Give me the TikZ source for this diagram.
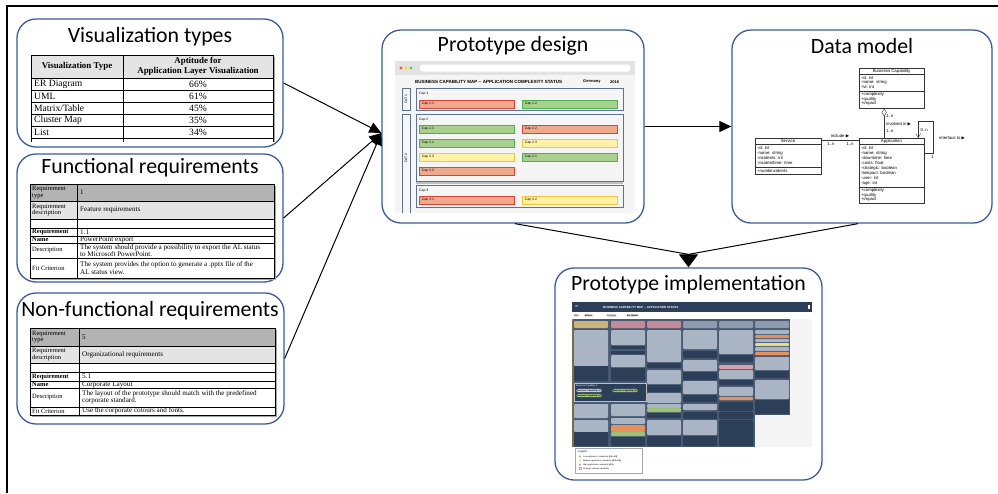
\documentclass[tikz,border=0pt]{standalone}
\usepackage{fontspec}
\setmainfont{Liberation Serif}
\newfontfamily\titlefont{Carlito}
\newfontfamily\uifont{Liberation Sans}
\newfontfamily\symfont{DejaVu Sans}
\usetikzlibrary{arrows.meta,shapes.geometric}
\definecolor{panelblue}{HTML}{3B5B98}
\definecolor{hdrgray}{HTML}{B3B3B3}
\definecolor{lgray}{HTML}{E4E4E4}
\definecolor{boxsteel}{HTML}{5C7392}
\definecolor{redfill}{HTML}{EFAA8E}
\definecolor{redline}{HTML}{D9443A}
\definecolor{grnfill}{HTML}{A9D18E}
\definecolor{grnline}{HTML}{4CB050}
\definecolor{ylwfill}{HTML}{FFF2A6}
\definecolor{ylwline}{HTML}{F2C53D}
\definecolor{navy}{HTML}{2D3E58}
\definecolor{slate}{HTML}{A9B5C5}
\definecolor{tanhdr}{HTML}{C9B47A}
\definecolor{pinkhdr}{HTML}{C48A9A}
\definecolor{grayhdr}{HTML}{8D9BB0}
\definecolor{orangeb}{HTML}{E5915E}
\definecolor{greenb}{HTML}{9CC27A}
\definecolor{yellowb}{HTML}{E8DC8A}
\definecolor{pinkb}{HTML}{D9A0A8}
\definecolor{gridbg}{HTML}{4A5A72}
\tikzset{
  panel/.style={draw=panelblue, line width=1.3pt, rounded corners=19pt, fill=white},
  ptitle/.style={font=\titlefont\fontsize{21.8}{23}\selectfont, inner sep=0pt},
  conn/.style={draw=black, line width=1pt, -{Triangle[length=12pt,width=11pt]}},
  cellt/.style={anchor=west, inner sep=0pt, align=left, font=\fontsize{6.5}{6.7}\selectfont},
  cellr/.style={anchor=west, inner sep=0pt, align=left, font=\fontsize{7.1}{7.1}\selectfont},
  vtt/.style={font=\fontsize{9.6}{9.6}\selectfont, inner sep=0pt},
  tbl/.style={line width=0.6pt, draw=black},
  tinyt/.style={font=\uifont\fontsize{3.4}{3.5}\selectfont, inner sep=0pt, anchor=west},
  umlt/.style={font=\uifont\fontsize{4.3}{4.5}\selectfont, inner sep=0pt, anchor=west},
  umlbox/.style={draw=black!80, line width=0.4pt, fill=white, anchor=north west, inner sep=0pt},
  capbox/.style={draw=boxsteel, line width=0.7pt},
  pbar/.style={anchor=north west, minimum height=7.5pt, text width=90pt, inner xsep=2.5pt, inner ysep=0pt, font=\uifont\fontsize{3.4}{3.5}\selectfont, line width=0.6pt, align=left},
  redbar/.style={pbar, fill=redfill, draw=redline},
  grnbar/.style={pbar, fill=grnfill, draw=grnline},
  ylwbar/.style={pbar, fill=ylwfill, draw=ylwline},
  pill/.style={fill=lgray, rounded corners=1.5pt, inner sep=0.6pt, font=\uifont\fontsize{2.2}{2.5}\selectfont, anchor=west}
}
\begin{document}
\begin{tikzpicture}[x=1pt,y=-1pt]
\useasboundingbox (0,0) rectangle (998,493);
\draw[line width=1.2pt] (7,493) -- (7,6) -- (998,6);

% ---------- panels ----------
\node[panel, minimum width=266pt, minimum height=128pt] (vt) at (150,83) {};
\node[panel, minimum width=266pt, minimum height=128pt] (fr) at (150,218) {};
\node[panel, minimum width=267pt, minimum height=131pt] (nfr) at (150.5,358.5) {};
\node[panel, minimum width=262pt, minimum height=193pt] (pd) at (513,126.5) {};
\node[panel, minimum width=260pt, minimum height=193pt] (dm) at (862,126.5) {};
\node[panel, minimum width=267pt, minimum height=212pt] (pi) at (688.5,374) {};

\node[ptitle] (vtT) at (150,37) {Visualization types};
\node[ptitle] (frT) at (150,168) {Functional requirements};
\node[ptitle] (nfrT) at (150,311) {Non-functional requirements};
\node[ptitle] (pdT) at (513,46) {Prototype design};
\node[ptitle] (dmT) at (862,46) {Data model};
\node[ptitle] (piT) at (688.5,285) {Prototype implementation};

% ---------- visualization table ----------
\fill[black!35] (33,57) rectangle (275,142);
\fill[lgray] (31,55) rectangle (273,78);
\fill[white] (31,78) rectangle (273,142);
\draw[tbl] (31,55) -- (273,55);
\foreach \yy in {78,90,102,114,126,138} \draw[tbl] (31,\yy) -- (273,\yy);
\foreach \xx in {31,123,273} \draw[tbl] (\xx,55) -- (\xx,142);
\node[vtt, font=\fontsize{8.9}{8.9}\selectfont] (vh1) at (77,66.5) {\textbf{Visualization Type}};
\node[vtt, font=\fontsize{8.9}{9.4}\selectfont, align=center] (vh2) at (198,66.5) {\textbf{Aptitude for}\\\textbf{Application Layer Visualization}};
\node[vtt, anchor=west] (r1a) at (34,84) {ER Diagram};   \node[vtt] (r1b) at (198,84) {66\%};
\node[vtt, anchor=west] (r2a) at (34,96) {UML};          \node[vtt] (r2b) at (198,96) {61\%};
\node[vtt, anchor=west] (r3a) at (34,108) {Matrix/Table};\node[vtt] (r3b) at (198,108) {45\%};
\node[vtt, anchor=west] (r4a) at (34,120) {Cluster Map}; \node[vtt] (r4b) at (198,120) {35\%};
\node[vtt, anchor=west] (r5a) at (34,132) {List};        \node[vtt] (r5b) at (198,132) {34\%};

% ---------- functional requirements table ----------
\fill[black!35] (32,186) rectangle (276,280);
\fill[white] (30,184) rectangle (274,278);
\fill[hdrgray] (30,184) rectangle (274,201);
\fill[lgray] (30,201) rectangle (274,219);
\draw[tbl] (30,184) rectangle (274,278);
\draw[tbl] (77,184) -- (77,278);
\foreach \yy in {201,219,228,236,243,258} \draw[tbl] (30,\yy) -- (274,\yy);
\node[cellt] (f1) at (32,192.5) {Requirement\\type};
\node[cellt] (f2) at (32,210) {Requirement\\description};
\node[cellt] (f3) at (32,232) {\textbf{Requirement}};
\node[cellt] (f4) at (32,239.5) {\textbf{Name}};
\node[cellt] (f5) at (32,250.5) {Description};
\node[cellt] (f6) at (32,268) {Fit Criterion};
\node[cellr] (g1) at (80,192.5) {1};
\node[cellr] (g2) at (80,210) {Feature requirements};
\node[cellr] (g3) at (80,232) {1.1};
\node[cellr] (g4) at (80,239.5) {PowerPoint export};
\node[cellr] (g5) at (80,250.5) {The system should provide a possibility to export the AL status\\to Microsoft PowerPoint.};
\node[cellr] (g6) at (80,268) {The system provides the option to generate a .pptx file of the\\AL status view.};

% ---------- non-functional requirements table ----------
\fill[black!35] (32,330) rectangle (277,417);
\fill[white] (30,328) rectangle (275,415);
\fill[hdrgray] (30,328) rectangle (275,346);
\fill[lgray] (30,346) rectangle (275,363);
\draw[tbl] (30,328) rectangle (275,415);
\draw[tbl] (79,328) -- (79,415);
\foreach \yy in {346,363,372,381,388,407} \draw[tbl] (30,\yy) -- (275,\yy);
\node[cellt] (n1) at (32,337) {Requirement\\type};
\node[cellt] (n2) at (32,354.5) {Requirement\\description};
\node[cellt] (n3) at (32,376.5) {\textbf{Requirement}};
\node[cellt] (n4) at (32,384.5) {\textbf{Name}};
\node[cellt] (n5) at (32,397.5) {Description};
\node[cellt] (n6) at (32,411) {Fit Criterion};
\node[cellr] (m1) at (82,337) {5};
\node[cellr] (m2) at (82,354.5) {Organizational requirements};
\node[cellr] (m3) at (82,376.5) {5.1};
\node[cellr] (m4) at (82,384.5) {Corporate Layout};
\node[cellr] (m5) at (82,397.5) {The layout of the prototype should match with the predefined\\corporate standard.};
\node[cellr] (m6) at (82,411) {Use the corporate colours and fonts.};

% ---------- prototype design mockup ----------
\fill[black!4] (395,61) rectangle (635,213);
\fill[black!11] (395,61) rectangle (635,75);
\fill[red!70!white] (401,68) circle (1.6);
\fill[yellow!80!orange] (406,68) circle (1.6);
\fill[green!60!black!60] (411,68) circle (1.6);
\fill[white, rounded corners=2pt] (420,64.5) rectangle (630,71.5);
\node[tinyt, font=\uifont\bfseries\fontsize{4.5}{4.5}\selectfont] (mt) at (415,82) {BUSINESS CAPABILITY MAP -- APPLICATION COMPLEXITY STATUS};
\node[tinyt, font=\uifont\bfseries\fontsize{4}{4}\selectfont] (mg) at (583,82) {Germany};
\node[tinyt, font=\uifont\bfseries\fontsize{4}{4}\selectfont] (my) at (610,82) {2016};
\draw[capbox] (402,88) rectangle (410,110);
\draw[capbox] (402,213) -- (402,114) -- (410,114) -- (410,213);
\node[tinyt, anchor=center, rotate=90] (cat1) at (406,99) {CAT 1};
\node[tinyt, anchor=center, rotate=90] (cat2) at (406,158) {CAT 2};
\fill[black!25] (416,181) rectangle (623,183.5);
\draw[capbox, fill=black!4] (416,88) rectangle (623,110);
\draw[capbox, fill=black!4] (416,114) rectangle (623,181);
\draw[capbox, fill=black!4] (416,185) rectangle (623,207);
\node[tinyt] (cap1) at (419,94) {Cap 1};
\node[tinyt] (cap2) at (419,119.5) {Cap 2};
\node[tinyt] (cap3) at (419,190.5) {Cap 3};
\node[redbar] (b11) at (419,100) {Cap 1.1};
\node[grnbar] (b12) at (522,100) {Cap 1.2};
\node[grnbar] (b21) at (419,125) {Cap 2.1};
\node[redbar] (b22) at (522,125) {Cap 2.2};
\node[grnbar] (b23) at (419,139) {Cap 2.1};
\node[ylwbar] (b24) at (522,139) {Cap 2.3};
\node[ylwbar] (b25) at (419,153) {Cap 2.3};
\node[grnbar] (b26) at (522,153) {Cap 2.1};
\node[redbar] (b27) at (419,167) {Cap 2.2};
\node[redbar] (b31) at (419,196) {Cap 3.1};
\node[ylwbar] (b32) at (522,196) {Cap 3.2};

% ---------- data model ----------
\node[umlbox, minimum width=65pt, minimum height=40pt] (bc) at (859,68) {};
\draw[black!80, line width=0.4pt] (859,74) -- (924,74) (859,91) -- (924,91);
\node[umlt, anchor=center] (bcT) at (891.5,71) {Business Capability};
\node[umlt] (bc1) at (861,77.5) {-id: int};
\node[umlt] (bc2) at (861,82) {-name: string};
\node[umlt] (bc3) at (861,86.5) {-lvl: int};
\node[umlt] (bc4) at (861,94.5) {+complexity};
\node[umlt] (bc5) at (861,99) {+quality};
\node[umlt] (bc6) at (861,103.5) {+impact};

\node[umlbox, minimum width=66pt, minimum height=36pt] (sv) at (755,138) {};
\draw[black!80, line width=0.4pt] (755,144) -- (821,144) (755,167) -- (821,167);
\node[umlt, anchor=center] (svT) at (788,141) {Service};
\node[umlt] (sv1) at (757,148) {-id: int};
\node[umlt] (sv2) at (757,153) {-name: string};
\node[umlt] (sv3) at (757,158) {-incidents: int};
\node[umlt] (sv4) at (757,163) {-incidenttime: time};
\node[umlt] (sv5) at (757,170.5) {+numbincidents};

\node[umlbox, minimum width=65pt, minimum height=65pt] (ap) at (859,138) {};
\draw[black!80, line width=0.4pt] (859,144) -- (924,144) (859,187) -- (924,187);
\node[umlt, anchor=center] (apT) at (891.5,141) {Application};
\node[umlt] (ap1) at (861,148) {-id: int};
\node[umlt] (ap2) at (861,153) {-name: string};
\node[umlt] (ap3) at (861,158) {-downtime: time};
\node[umlt] (ap4) at (861,163) {-costs: float};
\node[umlt] (ap5) at (861,168) {-strategic: boolean};
\node[umlt] (ap6) at (861,173) {-bimpact: boolean};
\node[umlt] (ap7) at (861,178) {-user: int};
\node[umlt] (ap8) at (861,183) {-age: int};
\node[umlt] (ap9) at (861,190.5) {+complexity};
\node[umlt] (ap10) at (861,195) {+quality};
\node[umlt] (ap11) at (861,199.5) {+impact};

\draw[black!80, line width=0.4pt, {Diamond[open,length=8pt,width=5pt]}-] ([xshift=-7.5pt]bc.south) -- ([xshift=-7.5pt]ap.north);
\node[umlt] (l1) at (886,116.5) {1..n};
\node[umlt] (l2) at (886,124) {involved in {\symfont ▶}};
\node[umlt] (l3) at (886,131) {1..n};
\draw[black!80, line width=0.4pt, -{Straight Barb[length=4pt,width=5pt]}] ([yshift=17.5pt]ap.east) -- ++(9,0) -- ++(0,-32) -| ([xshift=26.5pt]ap.north);
\node[umlt] (l4) at (920.5,130) {0..n};
\node[umlt] (l5) at (931,157) {1};
\node[umlt] (l6) at (939,138) {interface to {\symfont ▶}};
\draw[black!80, line width=0.4pt] ([yshift=16pt]sv.east) -- ([yshift=30.5pt]ap.west);
\node[umlt, anchor=center] (l7) at (840,136) {include {\symfont ▶}};
\node[umlt, anchor=center] (l8) at (831,144) {1..n};
\node[umlt, anchor=center] (l9) at (850,144) {1..n};

% ---------- prototype implementation screenshot ----------
\fill[navy] (572,302) rectangle (812,312);
\node[tinyt, text=white, font=\symfont\fontsize{3.5}{4}\selectfont] (ham) at (575,307) {≡};
\node[tinyt, text=white, font=\uifont\bfseries\fontsize{2.9}{3}\selectfont] (pit) at (603,307) {BUSINESS CAPABILITY MAP -- APPLICATION STATUS};
\fill[white] (807.5,305) rectangle (809.5,309);
\node[pill] (p1) at (573,315.5) {2016};
\node[pill] (p2) at (584,315.5) {\textbf{Market}\,\,\,\,\,};
\node[pill] (p3) at (606,315.5) {Company};
\node[pill] (p4) at (626,315.5) {\textbf{Not Market}};
\fill[gridbg] (572,319) rectangle (790,447);
\fill[tanhdr!60!black] (572,319) rectangle (574,447);
\foreach \x/\a/\b/\c in {
 574/321/328/tanhdr, 611/321/328/pinkhdr, 647/321/328/pinkhdr, 683/321/328/grayhdr, 719/321/328/grayhdr, 755/321/328/grayhdr,
 574/330/366/slate, 574/366/381/navy, 574/404/418/slate, 574/420/432/slate, 574/432/446/navy,
 611/330/345/slate, 611/346/349/navy, 611/351/354/navy, 611/355/367/slate, 611/368/381/navy, 611/404/416/slate, 611/418/424/slate, 611/425/432/orangeb, 611/432/436/greenb, 611/437/446/navy,
 647/330/362/slate, 647/363/368/navy, 647/370/384/slate, 647/385/392/navy, 647/393/403/slate, 647/404/408/slate, 647/408/412/greenb, 647/413/418/navy, 647/420/435/slate, 647/436/446/navy,
 683/330/349/slate, 683/351/358/navy, 683/360/371/slate, 683/372/380/navy, 683/381/394/slate, 683/395/402/navy, 683/404/410/slate, 683/412/419/navy, 683/420/435/slate, 683/436/446/navy,
 719/330/354/slate, 719/355/362/navy, 719/365/369/pinkb, 719/370/379/slate, 719/380/385/navy, 719/387/396/slate, 719/397/400/orangeb, 719/402/411/navy, 719/412/419/navy, 719/420/446/navy,
 755/330/334/slate, 755/335/338/orangeb, 755/339/342/slate, 755/343/346/yellowb, 755/347/351/slate, 755/352/355/orangeb, 755/357/370/slate, 755/371/378/navy, 755/380/399/slate, 755/400/414/navy}
 \fill[\c, rounded corners=1pt] (\x,\a) rectangle (\x+34,\b);
\fill[black!4] (755,415) rectangle (790,447);
\fill[black!4] (790,319) rectangle (812,447);
\draw[black!25, line width=0.6pt, fill=navy] (574,383) rectangle (646,401);
\node[tinyt, text=white, font=\uifont\fontsize{2.2}{2.5}\selectfont] (bcap) at (576,386) {Business Capability 4};
\node[pill, fill=slate!60!white] (q1) at (576,390.5) {\textbf{Business Capability 4.1}};
\node[pill, fill=greenb] (q2) at (612,390.5) {\textbf{Business Capability 4.2}};
\node[pill, fill=greenb] (q3) at (576,395.5) {\textbf{Business Capability 4.3}};
\draw[black!35, line width=0.6pt, fill=white] (575,448) rectangle (642,473);
\node[tinyt, font=\uifont\fontsize{2.6}{3}\selectfont] (lg) at (578,452) {Legend};
\fill[greenb] (580,456.5) circle (1.1);
\fill[yellowb] (580,460.5) circle (1.1);
\fill[orangeb] (580,464.5) circle (1.1);
\draw[pinkb, line width=0.4pt] (579,467.5) rectangle (581,469.5);
\node[tinyt, font=\uifont\fontsize{2.1}{2.5}\selectfont] (lg1) at (583,456.5) {Low application complexity \textbf{(0,0--0,2)}};
\node[tinyt, font=\uifont\fontsize{2.1}{2.5}\selectfont] (lg2) at (583,460.5) {Medium application complexity \textbf{(0,2--0,5)}};
\node[tinyt, font=\uifont\fontsize{2.1}{2.5}\selectfont] (lg3) at (583,464.5) {High application complexity \textbf{(0,5)}};
\node[tinyt, font=\uifont\fontsize{2.1}{2.5}\selectfont] (lg4) at (583,468.5) {Strategic relevant capability};

% ---------- connectors ----------
\coordinate (pin) at ([yshift=-6.5pt]pd.west);
\draw[conn] (vt.east) -- (pin);
\draw[conn] (fr.east) -- (pin);
\draw[conn] (nfr.east) -- (pin);
\draw[conn] (pd.east) -- (dm.west);
\coordinate (merge) at ([yshift=13pt]pi.north);
\draw[line width=1pt] ([xshift=2pt]pd.south) -- (merge);
\draw[line width=1pt] ([xshift=-4pt]dm.south) -- (merge);
\draw[draw=black, line width=1pt, -{Triangle[length=13pt,width=19pt]}] (merge) -- (pi.north);
\end{tikzpicture}
\end{document}
